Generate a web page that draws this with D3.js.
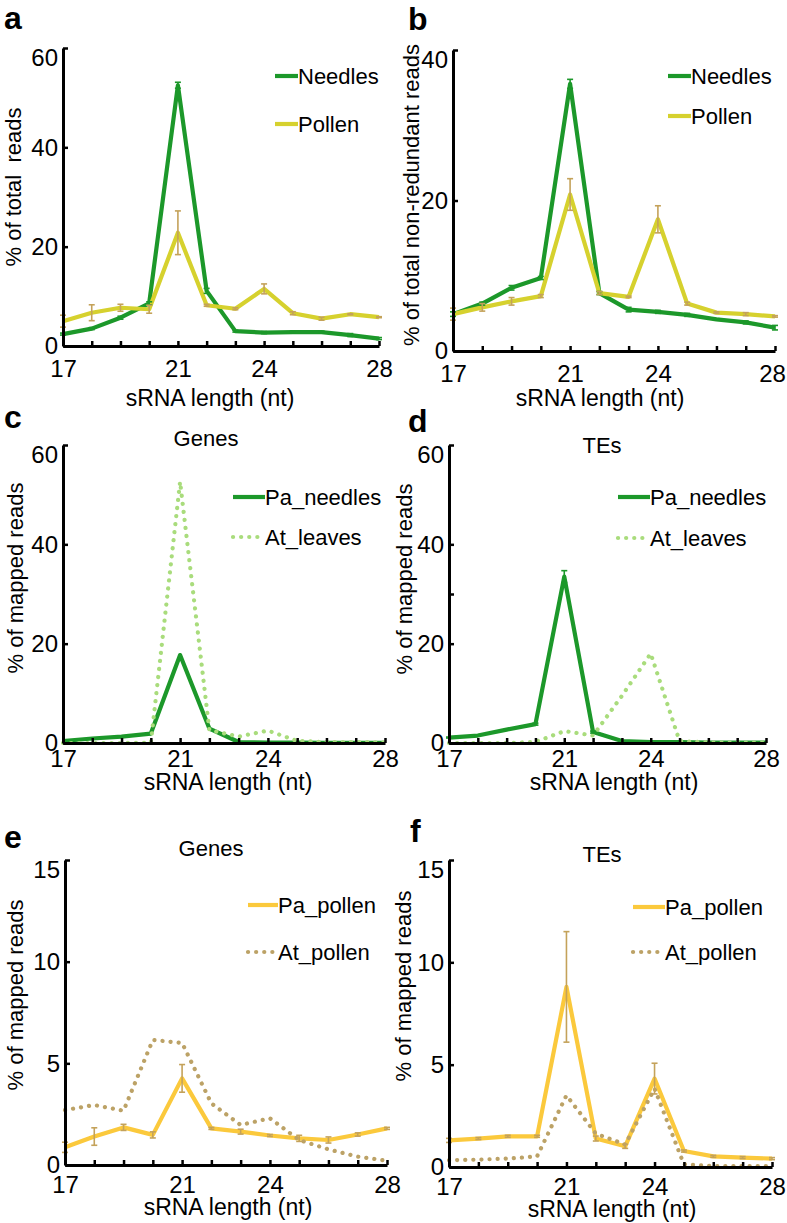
<!DOCTYPE html>
<html>
<head>
<meta charset="utf-8">
<script src="https://cdn.jsdelivr.net/npm/d3@7"></script>
<style>
  body { margin: 0; background: #fff; }
  svg { display: block; }
</style>
</head>
<body>
<svg width="787" height="1223"></svg>
<script>
// sRNA lengths (nt) and labelled ticks
const lengths = [17, 18, 19, 20, 21, 22, 23, 24, 25, 26, 27, 28];
const xTickLabels = [17, 21, 24, 28];

// a: % of total reads
const aNeedles = [2.4, 3.5, 5.7, 8.6, 52.5, 11.1, 3.0, 2.7, 2.8, 2.8, 2.2, 1.5];
const aNeedlesErr = [0.2, 0.2, 0.3, 0.3, 0.6, 0.5, 0.2, 0.2, 0.2, 0.2, 0.3, 0.2];
const aPollen = [5.0, 6.7, 7.7, 7.4, 22.8, 8.2, 7.5, 11.5, 6.6, 5.5, 6.4, 5.8];
const aPollenErr = [1.2, 1.6, 0.7, 0.8, 4.4, 0.2, 0.2, 1.0, 0.3, 0.3, 0.1, 0.1];

// b: % of total non-redundant reads
const bNeedles = [4.9, 6.3, 8.4, 9.7, 35.5, 7.7, 5.5, 5.2, 4.8, 4.2, 3.8, 3.1];
const bNeedlesErr = [0.3, 0.2, 0.3, 0.2, 0.6, 0.2, 0.3, 0.2, 0.2, 0.1, 0.2, 0.3];
const bPollen = [4.9, 5.8, 6.6, 7.3, 20.8, 7.7, 7.2, 17.5, 6.3, 5.1, 4.9, 4.6];
const bPollenErr = [0.8, 0.5, 0.5, 0.2, 2.1, 0.2, 0.1, 1.8, 0.2, 0.1, 0.2, 0.1];

// c: genes, needles vs Arabidopsis leaves
const cPaNeedles = [0.4, 0.9, 1.3, 1.9, 17.7, 2.9, 0.2, 0.1, 0.1, 0.05, 0.05, 0.05];
const cAtLeaves = [0, 0, 0, 0.05, 52.6, 2.6, 1.3, 2.5, 0.4, 0.2, 0.2, 0.1];

// d: TEs, needles vs Arabidopsis leaves
const dPaNeedles = [1.1, 1.5, 2.7, 3.8, 33.5, 2.2, 0.4, 0.2, 0.2, 0.1, 0.1, 0.1];
const dPaNeedlesErr = [0.1, 0.1, 0.1, 0.2, 1.2, 0.2, 0, 0, 0, 0, 0, 0];
const dAtLeaves = [0, 0, 0, 0.2, 2.4, 1.5, 9.5, 18.0, 0.4, 0.1, 0.1, 0.1];

// e: genes, pollen
const ePaPollen = [0.87, 1.4, 1.85, 1.48, 4.26, 1.8, 1.64, 1.45, 1.31, 1.23, 1.5, 1.8];
const ePaPollenErr = [0.25, 0.43, 0.15, 0.15, 0.68, 0.05, 0.12, 0.05, 0.15, 0.15, 0.08, 0.05];
const eAtPollen = [2.7, 2.95, 2.67, 6.15, 6.0, 3.03, 1.97, 2.3, 1.23, 0.77, 0.41, 0.21];

// f: TEs, pollen
const fPaPollen = [1.3, 1.39, 1.5, 1.5, 8.8, 1.39, 1.01, 4.32, 0.78, 0.52, 0.46, 0.41];
const fPaPollenErr = [0.1, 0.05, 0.05, 0.05, 2.7, 0.12, 0.1, 0.75, 0.05, 0.05, 0.05, 0.05];
const fAtPollen = [0.33, 0.36, 0.41, 0.52, 3.5, 1.63, 1.1, 3.83, 0.13, 0.05, 0.05, 0.05];

const green = '#1c982a';
const olive = '#d6d12e';
const lightGreen = '#a9dc7c';
const gold = '#fbc93c';
const khaki = '#bca266';
const tan = '#c4a25a';

const font = '"Liberation Sans", Arial, sans-serif';

const panels = [
  { label: 'a', left: 63, right: 379, top: 48, bottom: 346, yMax: 60, yTicks: [0, 20, 40, 60],
    yTitle: '% of total  reads', yTitleX: 21, yTitleY: 187, xLabelPad: 14, xTitleY: 406, xTitleX: 210,
    labelX: 4, labelY: 29, legendX: 275, legendLen: 23, legendY: [76, 124],
    series: [
      { name: 'Needles', values: aNeedles, err: aNeedlesErr, color: green, errColor: green },
      { name: 'Pollen', values: aPollen, err: aPollenErr, color: olive, errColor: tan }
    ] },
  { label: 'b', left: 453, right: 775, top: 50, bottom: 351, yMax: 40, yTicks: [0, 20, 40],
    yTitle: '% of total non-redundant reads', yTitleX: 419, yTitleY: 195, xLabelPad: 14, xTitleY: 406, xTitleX: 600,
    labelX: 408, labelY: 29.5, legendX: 668, legendLen: 23, legendY: [76, 116],
    series: [
      { name: 'Needles', values: bNeedles, err: bNeedlesErr, color: green, errColor: green },
      { name: 'Pollen', values: bPollen, err: bPollenErr, color: olive, errColor: tan }
    ] },
  { label: 'c', title: 'Genes', titleX: 206, titleY: 446, left: 63, right: 385, top: 445, bottom: 743, yMax: 60,
    yTicks: [0, 20, 40, 60], yTitle: '% of mapped reads', yTitleX: 23, yTitleY: 578, xLabelPad: 7, xTitleY: 790, xTitleX: 228,
    labelX: 4, labelY: 428, legendX: 233, legendLen: 32, legendY: [497, 537],
    series: [
      { name: 'Pa_needles', values: cPaNeedles, color: green },
      { name: 'At_leaves', values: cAtLeaves, color: lightGreen, dotted: true }
    ] },
  { label: 'd', title: 'TEs', titleX: 602, titleY: 453, left: 449, right: 766, top: 445, bottom: 743, yMax: 60,
    yTicks: [0, 20, 30, 40, 60], yTitle: '% of mapped reads', yTitleX: 412, yTitleY: 579, xLabelPad: 7, xTitleY: 790, xTitleX: 614,
    labelX: 408, labelY: 432, legendX: 618, legendLen: 32, legendY: [497, 538],
    series: [
      { name: 'Pa_needles', values: dPaNeedles, err: dPaNeedlesErr, color: green, errColor: green },
      { name: 'At_leaves', values: dAtLeaves, color: lightGreen, dotted: true }
    ] },
  { label: 'e', title: 'Genes', titleX: 211, titleY: 856, left: 65, right: 387, top: 860, bottom: 1165, yMax: 15,
    yTicks: [0, 5, 10, 15], yTitle: '% of mapped reads', yTitleX: 23, yTitleY: 995, xLabelPad: 11, xTitleY: 1215, xTitleX: 228,
    labelX: 4, labelY: 848, legendX: 248, legendLen: 30, legendY: [905, 952],
    series: [
      { name: 'Pa_pollen', values: ePaPollen, err: ePaPollenErr, color: gold, errColor: tan },
      { name: 'At_pollen', values: eAtPollen, color: khaki, dotted: true }
    ] },
  { label: 'f', title: 'TEs', titleX: 602, titleY: 862, left: 449, right: 772, top: 860, bottom: 1167, yMax: 15,
    yTicks: [0, 5, 10, 15], yTitle: '% of mapped reads', yTitleX: 411, yTitleY: 986, xLabelPad: 11, xTitleY: 1217, xTitleX: 612,
    labelX: 410, labelY: 842, legendX: 633, legendLen: 32, legendY: [907, 952],
    series: [
      { name: 'Pa_pollen', values: fPaPollen, err: fPaPollenErr, color: gold, errColor: tan },
      { name: 'At_pollen', values: fAtPollen, color: khaki, dotted: true }
    ] }
];

const svg = d3.select('svg');
const pageWidth = 787;

panels.forEach(p => {
  const x = d3.scaleLinear().domain([17, 28]).range([p.left, p.right]);
  const y = d3.scaleLinear().domain([0, p.yMax]).range([p.bottom, p.top]);
  const g = svg.append('g');

  const line = d3.line()
    .x((d, i) => x(lengths[i]))
    .y(d => y(d));

  // lines
  p.series.forEach(s => {
    g.append('path')
      .datum(s.values)
      .attr('fill', 'none')
      .attr('stroke', s.color)
      .attr('stroke-width', 4.2)
      .attr('stroke-linejoin', 'round')
      .attr('stroke-linecap', s.dotted ? 'round' : 'butt')
      .attr('stroke-dasharray', s.dotted ? '0.1 8' : null)
      .attr('d', line);
  });

  // error bars
  p.series.filter(s => s.err).forEach(s => {
    const eb = g.append('g').attr('stroke', s.errColor).attr('stroke-width', 1.6);
    s.values.forEach((v, i) => {
      const e = s.err[i];
      if (!e) return;
      const cx = x(lengths[i]);
      eb.append('line').attr('x1', cx).attr('x2', cx).attr('y1', y(v - e)).attr('y2', y(v + e));
      [v - e, v + e].forEach(t => {
        eb.append('line').attr('x1', cx - 3).attr('x2', cx + 3).attr('y1', y(t)).attr('y2', y(t));
      });
    });
  });

  // axes
  const xAxis = g.append('g')
    .attr('transform', `translate(0,${p.bottom})`)
    .call(d3.axisBottom(x).tickValues(lengths).tickSize(-5).tickSizeOuter(0)
      .tickPadding(p.xLabelPad).tickFormat(d => xTickLabels.includes(d) ? d : ''));

  const yAxis = g.append('g')
    .attr('transform', `translate(${p.left},0)`)
    .call(d3.axisLeft(y).tickValues(p.yTicks).tickSize(-5).tickSizeOuter(0)
      .tickPadding(5).tickFormat(d => d === 30 ? '' : d));

  [xAxis, yAxis].forEach(ax => {
    ax.attr('font-family', font).attr('font-size', 24);
    ax.select('.domain').attr('stroke', '#000').attr('stroke-width', 3);
    ax.selectAll('.tick line').attr('stroke', '#000').attr('stroke-width', 2.5);
    ax.selectAll('.tick text').attr('fill', '#000');
  });
  // top label sits below its tick
  yAxis.selectAll('.tick text').filter(d => d === p.yMax).attr('dy', '0.72em');
  // keep the last x label inside the page
  xAxis.selectAll('.tick text').filter(d => d === 28 && x(28) + 14 > pageWidth)
    .attr('dx', pageWidth - 15 - x(28));

  // axis titles
  g.append('text')
    .attr('x', p.xTitleX)
    .attr('y', p.xTitleY)
    .attr('text-anchor', 'middle')
    .attr('font-family', font)
    .attr('font-size', 23)
    .text('sRNA length (nt)');

  g.append('text')
    .attr('transform', `translate(${p.yTitleX},${p.yTitleY}) rotate(-90)`)
    .attr('text-anchor', 'middle')
    .attr('font-family', font)
    .attr('font-size', 22)
    .style('white-space', 'pre')
    .text(p.yTitle);

  if (p.title) {
    g.append('text')
      .attr('x', p.titleX)
      .attr('y', p.titleY)
      .attr('text-anchor', 'middle')
      .attr('font-family', font)
      .attr('font-size', 22)
      .text(p.title);
  }

  // panel letter
  g.append('text')
    .attr('x', p.labelX)
    .attr('y', p.labelY)
    .attr('font-family', font)
    .attr('font-weight', 'bold')
    .attr('font-size', 32)
    .text(p.label);

  // legend
  p.series.forEach((s, i) => {
    const ly = p.legendY[i];
    g.append('line')
      .attr('x1', p.legendX).attr('x2', p.legendX + p.legendLen)
      .attr('y1', ly).attr('y2', ly)
      .attr('stroke', s.color)
      .attr('stroke-width', 4.2)
      .attr('stroke-linecap', s.dotted ? 'round' : 'butt')
      .attr('stroke-dasharray', s.dotted ? '0.1 8' : null);
    g.append('text')
      .attr('x', p.legendX + p.legendLen)
      .attr('y', ly)
      .attr('dy', '0.36em')
      .attr('font-family', font)
      .attr('font-size', 22)
      .text(s.name);
  });
});
</script>
</body>
</html>
